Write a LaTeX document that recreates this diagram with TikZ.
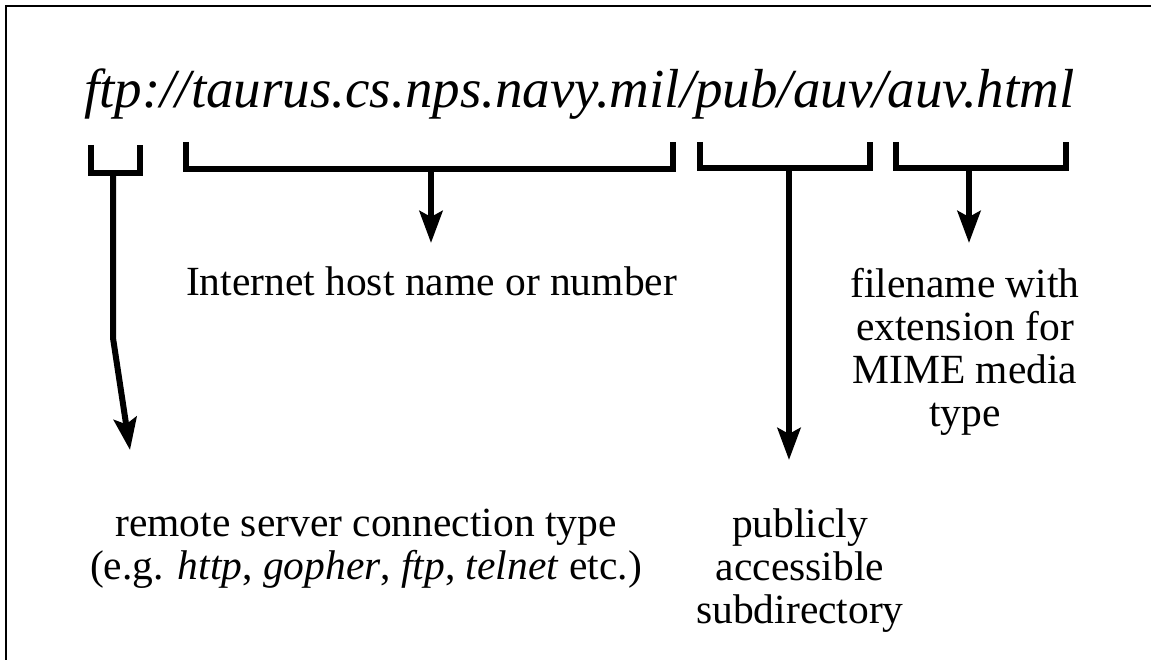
\documentclass[tikz,border=0pt]{standalone}
\usepackage{fontspec}
\setmainfont{Liberation Serif}
\usetikzlibrary{arrows.meta}
\begin{document}
\begin{tikzpicture}[x=1pt,y=-1pt,
  bracket/.style={line width=6pt,line join=miter},
  pointer/.style={line width=6pt,-{Stealth[length=32pt,width=23pt,inset=6pt]}},
  label/.style={inner sep=0pt,align=center,font=\fontsize{41.5}{43}\selectfont}]
\useasboundingbox (0,0) rectangle (1151,660);
\draw[line width=2.5pt] (6,660) -- (6,6) -- (1151,6);
\node[inner sep=0pt,anchor=base west,font=\fontsize{55}{60}\selectfont\itshape] (url) at (84,108) {ftp://taurus.cs.nps.navy.mil/pub/auv/auv.html};
% brackets
\draw[bracket] (91,145) |- (139.5,173) -- (139.5,145);
\draw[bracket] (185.5,142) |- (672.5,169) -- (672.5,142);
\draw[bracket] (699.5,142) |- (869.5,168) -- (869.5,142);
\draw[bracket] (895.5,142) |- (1065.5,168) -- (1065.5,142);
% anchor coordinates
\coordinate (b1) at (113,173);
\coordinate (bend1) at (113,338);
\coordinate (t1) at (130,450);
\coordinate (b2) at (431,169);
\coordinate (t2) at (431,243);
\coordinate (b3) at (789,168);
\coordinate (t3) at (789,460);
\coordinate (b4) at (969,168);
\coordinate (t4) at (969,243);
% labels
\node[label,anchor=base] (host) at (431.5,296) {Internet host name or number};
\node[label,anchor=north] (file) at (965,268) {filename with\\extension for\\MIME media\\type};
\node[label,anchor=north] (conn) at (366,509) {remote server connection type\\(e.g. \textit{http}, \textit{gopher}, \textit{ftp}, \textit{telnet} etc.)};
\node[label,anchor=north] (subdir) at (800,509) {publicly\\accessible\\subdirectory};
% pointers
\draw[pointer] (b1) -- (bend1) -- (t1);
\draw[pointer] (b2) -- (t2);
\draw[pointer] (b3) -- (t3);
\draw[pointer] (b4) -- (t4);
\end{tikzpicture}
\end{document}
